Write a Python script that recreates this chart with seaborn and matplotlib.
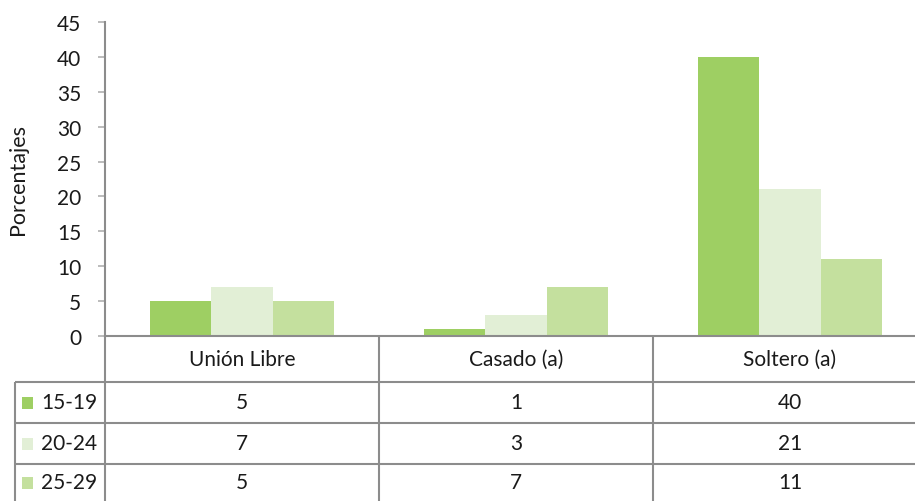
import pandas as pd
import matplotlib.pyplot as plt
import seaborn as sns

# -----------------------------
# Data
# -----------------------------
estados = ["Unión Libre", "Casado (a)", "Soltero (a)"]
edades = ["15-19", "20-24", "25-29"]
v_15_19 = [5, 1, 40]
v_20_24 = [7, 3, 21]
v_25_29 = [5, 7, 11]
colores = ["#9ecf63", "#e2efd6", "#c4e09e"]
y_ticks = [0, 5, 10, 15, 20, 25, 30, 35, 40, 45]

valores = [v_15_19, v_20_24, v_25_29]
df = pd.DataFrame(
    [(e, g, v) for g, serie in zip(edades, valores) for e, v in zip(estados, serie)],
    columns=["Estado", "Edad", "Porcentaje"],
)

# -----------------------------
# Theme
# -----------------------------
sns.set_theme(style="white")
plt.rcParams["font.family"] = ["Lato", "DejaVu Sans"]
line_gray = "#8c8c8c"
txt = "#1a1a1a"
fs = 15

W, H = 915, 502
fig = plt.figure(figsize=(W / 100, H / 100), dpi=100)

# pixel layout (the last column runs past the right edge of the picture)
ax_left, ax_right, ax_top, ax_bottom = 105, 927, 23, 337
ax = fig.add_axes([ax_left / W, 1 - ax_bottom / H,
                   (ax_right - ax_left) / W, (ax_bottom - ax_top) / H])

sns.barplot(
    data=df, x="Estado", y="Porcentaje", hue="Edad",
    order=estados, hue_order=edades, palette=colores, saturation=1,
    width=0.67, gap=0, linewidth=0, legend=False, ax=ax,
)

ax.set_ylim(0, 45)
ax.set_xlim(-0.5, len(estados) - 0.5)
ax.set_yticks(y_ticks)
ax.tick_params(axis="y", which="both", left=True, length=5, width=1.2,
               color="#b0b0b0", labelsize=fs, labelcolor=txt, pad=12)
ax.set_xticks([])
ax.set_xlabel("")
ax.set_ylabel("Porcentajes", fontsize=fs + 0.5, color=txt)
ax.yaxis.set_label_coords((28 - ax_left) / (ax_right - ax_left), 0.5)
for side in ["top", "right"]:
    ax.spines[side].set_visible(False)
for side in ["left", "bottom"]:
    ax.spines[side].set_color(line_gray)
    ax.spines[side].set_linewidth(1.5)

# -----------------------------
# Data table below the axis
# -----------------------------
tx = fig.add_axes([0, 0, 1, 1 - ax_bottom / H], zorder=-1)
tx.set_xlim(0, W)
tx.set_ylim(H, ax_bottom)
tx.axis("off")

col_edges = [ax_left, 379, 653, ax_right]
row_edges = [383, 424, 465, H]
tab_left = 15

tx.vlines(col_edges, ax_bottom, H, color=line_gray, lw=1.5)
tx.vlines([tab_left], row_edges[0], H, color=line_gray, lw=1.5)
tx.hlines(row_edges[:-1], tab_left, W, color=line_gray, lw=1.5)

centers = [(col_edges[i] + col_edges[i + 1]) / 2 for i in range(len(estados))]
for c, name in zip(centers, estados):
    tx.text(c, (ax_bottom + row_edges[0]) / 2, name, ha="center", va="center",
            fontsize=fs, color=txt)

row_centers = [(row_edges[i] + row_edges[i + 1]) / 2 for i in range(len(edades))]
for r, edad, serie, col in zip(row_centers, edades, valores, colores):
    tx.add_patch(plt.Rectangle((22, r - 6), 11, 12, color=col, lw=0))
    tx.text(41, r, edad, ha="left", va="center", fontsize=fs, color=txt)
    for c, v in zip(centers, serie):
        tx.text(c, r, str(v), ha="center", va="center", fontsize=fs, color=txt)

fig.savefig("out.png", dpi=100)
plt.close(fig)
